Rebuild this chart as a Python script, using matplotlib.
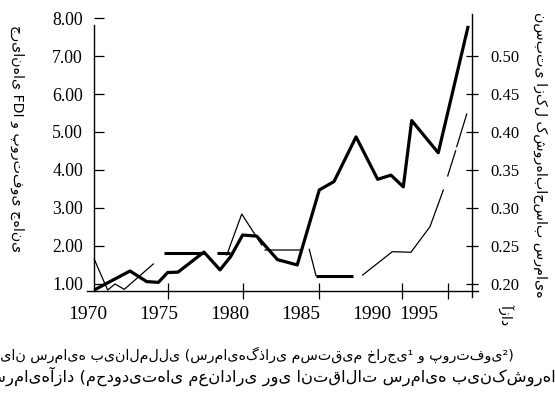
import matplotlib
matplotlib.use("Agg")
import matplotlib.pyplot as plt
import numpy as np
from matplotlib.ticker import FixedLocator, FixedFormatter

# ---------------- data ----------------
# Global FDI and portfolio flows (left axis)
FLOW_YEARS = [1970.0, 1972.38, 1973.49, 1974.27, 1974.89, 1975.58, 1977.31, 1978.38,
              1979.09, 1979.89, 1980.83, 1982.21, 1983.53, 1985.0, 1985.98, 1987.45,
              1988.89, 1989.78, 1990.6, 1991.16, 1992.93, 1994.93]
FLOW_VALUES = [0.83, 1.33, 1.05, 1.03, 1.29, 1.30, 1.83, 1.36,
               1.71, 2.28, 2.25, 1.63, 1.49, 3.47, 3.69, 4.87,
               3.75, 3.86, 3.55, 5.30, 4.45, 7.80]

# Share of countries with open capital account (right axis), thin broken pieces
nan = float("nan")
OPEN_THIN_YEARS = [1970.0, 1970.89, 1971.38, 1972.0, 1973.93, nan,
                   1978.83, 1979.83, 1981.16, nan,
                   1981.38, 1983.78, nan,
                   1984.33, 1984.78, nan,
                   1987.89, 1989.87, 1991.11, 1992.38, 1993.27, nan,
                   1993.56, 1994.09, nan,
                   1994.16, 1994.83]
OPEN_THIN_VALUES = [0.2319, 0.1914, 0.1993, 0.1923, 0.2257, nan,
                    0.2376, 0.2917, 0.2508, nan,
                    0.2442, 0.2442, nan,
                    0.2451, 0.2103, nan,
                    0.2112, 0.2420, 0.2412, 0.2750, 0.3234, nan,
                    0.3419, 0.3752, nan,
                    0.3805, 0.4237]
# heavier flat pieces of the same series
OPEN_FLAT_YEARS = [1974.65, 1977.31, nan, 1978.16, 1979.05, nan, 1984.78, 1987.27]
OPEN_FLAT_VALUES = [0.2399, 0.2399, nan, 0.2399, 0.2399, nan, 0.2103, 0.2103]

LEFT_TICKS = [1, 2, 3, 4, 5, 6, 7, 8]
RIGHT_TICKS = [0.20, 0.25, 0.30, 0.35, 0.40, 0.45, 0.50]
X_TICK_MARKS = [1974.91, 1979.93, 1985.0, 1990.53, 1993.56]
X_LABEL_POS = [1969.55, 1974.27, 1979.05, 1983.77, 1988.5, 1991.66]
X_LABELS = ["1970", "1975", "1980", "1985", "1990", "1995"]

LEFT_LABEL = "جریانهای FDI و پورتفوی جهانی"
RIGHT_LABEL_1 = "نسبتی ازکل کشورهاباحساب سرمایه"
RIGHT_LABEL_2 = "آزاد"
CAPTION_1 = "جریان سرمایه بین‌المللی (سرمایه‌گذاری مستقیم خارجی¹ و پورتفوی²)"
CAPTION_2 = "سرمایه‌آزاد (محدودیتهای معناداری روی انتقالات سرمایه بین‌کشورها)"

# ---------------- figure ----------------
W, H = 555, 407
fig = plt.figure(figsize=(W / 100, H / 100), dpi=100)
ax = fig.add_axes([86.7 / W, 1 - 291 / H, (478 - 86.7) / W, (291 - 14) / H])

px_per_unit = 37.89
y_bottom = 1 + (283.5 - 291) / px_per_unit
y_top = 1 + (283.5 - 14) / px_per_unit
ax.set_ylim(y_bottom, y_top)
ax.set_xlim(1970 + (86.7 - 94.3) / 15, 1970 + (478 - 94.3) / 15)

serif = "Liberation Serif"
arab = ["DejaVu Sans"]

ax.plot(FLOW_YEARS, FLOW_VALUES, color="black", lw=2.3, solid_capstyle="butt")

for s in ["top", "right"]:
    ax.spines[s].set_visible(False)
ax.spines["left"].set_position(("data", 1970))
ax.spines["left"].set_bounds(y_bottom, 1 + (283.5 - 25) / px_per_unit)
ax.spines["left"].set_linewidth(1.0)
ax.spines["bottom"].set_linewidth(1.0)

ax.yaxis.set_major_locator(FixedLocator(LEFT_TICKS))
ax.yaxis.set_major_formatter(FixedFormatter([f"{v:.2f}" for v in LEFT_TICKS]))
ax.tick_params(axis="y", direction="in", length=7.2, width=0.9, pad=8.1,
               labelsize=12.8)
for lab in ax.get_yticklabels():
    lab.set_fontfamily(serif)

ax.xaxis.set_major_locator(FixedLocator(X_TICK_MARKS))
ax.xaxis.set_major_formatter(FixedFormatter([""] * len(X_TICK_MARKS)))
ax.xaxis.set_minor_locator(FixedLocator(X_LABEL_POS))
ax.xaxis.set_minor_formatter(FixedFormatter(X_LABELS))
ax.tick_params(axis="x", which="major", direction="inout", length=12.2, width=0.9)
ax.tick_params(axis="x", which="minor", length=0, pad=10.8, labelsize=14)
for lab in ax.get_xticklabels(minor=True):
    lab.set_fontfamily(serif)

# right axis
ax2 = ax.twinx()
r0 = 0.2 + (y_bottom - 1) * 0.05
r1 = 0.2 + (y_top - 1) * 0.05
ax2.set_ylim(r0, r1)
ax2.plot(OPEN_THIN_YEARS, OPEN_THIN_VALUES, color="black", lw=0.9)
ax2.plot(OPEN_FLAT_YEARS, OPEN_FLAT_VALUES, color="black", lw=2.2, solid_capstyle="butt")
for s in ["top", "left", "bottom"]:
    ax2.spines[s].set_visible(False)
ax2.spines["right"].set_position(("data", 1970 + (471.7 - 94.3) / 15))
ax2.spines["right"].set_bounds(0.2 + (283.5 - 297) * 0.05 / px_per_unit, r1)
ax2.spines["right"].set_linewidth(1.0)
ax2.yaxis.set_major_locator(FixedLocator(RIGHT_TICKS))
ax2.yaxis.set_major_formatter(FixedFormatter([f"{v:.2f}" for v in RIGHT_TICKS]))
ax2.tick_params(axis="y", direction="inout", length=8.6, width=0.9, pad=8.9,
                labelsize=12)
for lab in ax2.get_yticklabels():
    lab.set_fontfamily(serif)

# texts
fig.text(17 / W, 1 - 139 / H, LEFT_LABEL, rotation=270, ha="center", va="center",
         fontsize=10.2, family=arab)
fig.text(540 / W, 1 - 155 / H, RIGHT_LABEL_1, rotation=270, ha="center", va="center",
         fontsize=10.3, family=arab)
fig.text(506 / W, 1 - 315 / H, RIGHT_LABEL_2, rotation=270, ha="center", va="center",
         fontsize=10.3, family=arab)
fig.text(514 / W, 1 - 355 / H, CAPTION_1, ha="right", va="center", fontsize=10.3,
         family=arab)
fig.text(-14 / W, 1 - 376 / H, CAPTION_2, ha="left", va="center", fontsize=11.8,
         family=arab)

fig.savefig("out.png", dpi=100)
